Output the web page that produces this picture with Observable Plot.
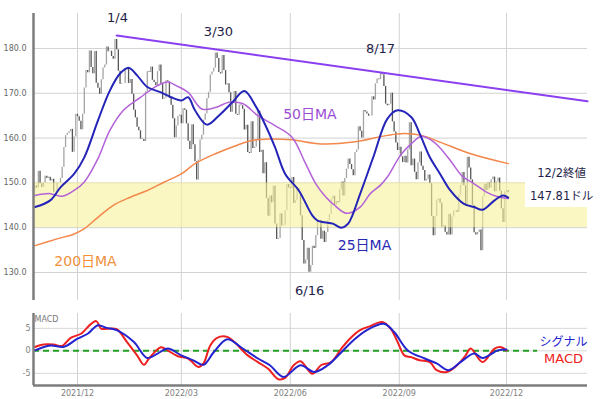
<!DOCTYPE html>
<html><head><meta charset="utf-8">
<script src="https://cdn.jsdelivr.net/npm/d3@7"></script>
<script src="https://cdn.jsdelivr.net/npm/@observablehq/plot@0.6"></script>
<style>
body{margin:0;background:#fff;}
#chart{position:relative;width:600px;height:399px;overflow:hidden}
#chart svg{position:absolute;left:0;}
</style></head><body><div id="chart"></div>
<script>
// Daily closes, trading-day index 0 = 2021/10/26 ... 278 = 2022/12/02
const prevClose0 = 148.64;
const closes = [
 149.32,148.85,152.57,149.80, // Oct
 148.96,150.02,151.49,150.96,151.28,150.44,150.81,147.92,147.87,149.99,150.00,151.00,153.49,157.87,160.55,161.02,161.41,161.94,156.81,160.24,165.30, // Nov
 164.77,163.76,161.84,165.32,171.18,175.08,174.56,179.45,175.74,174.33,179.30,172.26,171.14,169.75,172.99,175.64,176.28,180.33,179.29,179.38,178.20,177.57, // Dec
 182.01,179.70,174.92,172.00,172.17,172.19,175.08,175.53,172.19,173.07,169.80,166.23,164.51,162.41,161.62,159.78,159.69,159.22,170.33,174.78, // Jan
 174.61,175.84,172.90,172.39,171.66,174.83,176.28,172.12,168.64,168.88,172.79,172.55,168.88,167.30,164.32,160.07,162.74,164.85,165.12, // Feb
 163.20,166.56,166.23,163.17,159.30,157.44,162.95,158.52,154.73,150.62,155.09,159.59,160.62,163.98,165.38,168.82,170.21,174.07,174.72,175.60,178.96,177.77,174.61, // Mar
 174.31,178.44,175.06,171.83,172.14,170.09,165.75,167.66,170.40,165.29,165.07,167.40,167.23,166.42,161.79,162.88,156.80,156.57,163.64,157.65, // Apr
 157.96,159.48,166.02,156.77,157.28,152.06,154.51,146.50,142.56,147.11,145.54,149.24,140.82,137.35,137.59,143.11,140.36,140.52,143.78,149.64,148.84, // May
 148.71,151.21,145.38,146.14,148.71,147.96,142.64,137.13,131.88,132.76,135.43,130.06,131.56,135.87,135.35,138.27,141.66,141.66,137.44,139.23,136.72, // Jun
 138.93,141.56,142.92,146.35,147.04,144.87,145.86,145.49,148.47,150.17,147.07,151.00,153.04,155.35,154.09,152.95,151.60,156.79,157.35,162.51, // Jul
 161.51,160.01,166.13,165.81,165.35,164.87,164.92,169.24,168.49,172.10,173.19,173.03,174.55,174.15,171.52,167.57,167.23,167.53,170.03,163.62,161.38,158.91,157.22, // Aug
 157.96,155.81,154.53,155.96,154.46,157.37,163.43,153.84,155.31,152.37,150.70,154.48,156.90,153.72,152.74,150.43,150.77,151.76,149.84,142.48,138.20, // Sep
 142.45,146.10,146.40,145.43,140.09,140.42,138.98,138.34,142.99,138.38,142.41,143.75,143.86,143.39,147.27,149.45,152.34,149.35,144.80,155.74,153.34, // Oct
 150.65,145.03,138.88,138.38,138.92,139.50,134.87,146.87,149.70,148.28,150.04,148.79,150.72,151.29,148.01,150.18,151.07,148.11,144.22,141.17,148.03, // Nov
 148.31,147.81 // Dec
];

// Month tick positions (trading-day index) and labels
const tickIdx = [25, 86, 150, 214, 277];
const tickLabels = ["2021/12", "2022/03", "2022/06", "2022/09", "2022/12"];
const priceTicks = [130, 140, 150, 160, 170, 180];
const macdTicks = [-5, 0, 5];

// Moving averages: [index, value]
const ma25 = [[0,144.6],[9,146.1],[15,149.0],[23,152.0],[29,155.7],[37,163.9],[44,170.6],[50,174.4],[55,175.7],[60,174.0],[66,171.4],[74,170.2],[80,169.1],[86,168.4],[90,169.1],[94,166.2],[101,163.0],[108,165.0],[116,168.0],[123,170.5],[130,166.9],[135,163.2],[141,158.0],[147,152.0],[155,148.3],[163,142.7],[166,141.6],[170,141.2],[175,140.9],[180,140.0],[184,140.9],[191,147.5],[199,156.0],[207,164.3],[213,166.2],[221,164.7],[226,161.0],[232,155.7],[238,152.0],[244,148.3],[252,145.3],[258,144.6],[263,144.0],[270,146.1],[275,147.2],[278,146.7]];
const ma50 = [[0,147.2],[9,147.6],[16,147.0],[23,148.3],[29,150.2],[37,155.4],[44,161.7],[52,166.2],[62,169.1],[72,171.7],[78,172.5],[83,171.7],[90,170.2],[98,166.5],[106,166.8],[114,168.0],[122,167.7],[131,165.0],[141,162.8],[151,160.2],[159,154.3],[165,149.8],[171,146.8],[176,145.0],[183,143.2],[191,144.6],[197,147.6],[203,149.5],[207,151.3],[215,156.3],[221,158.7],[227,160.4],[233,159.5],[238,157.8],[245,154.5],[251,151.5],[258,149.8],[265,148.0],[271,147.0],[278,146.5]];
const ma200 = [[0,136.0],[13,137.5],[23,138.6],[29,139.8],[37,142.3],[46,145.0],[56,146.8],[66,148.3],[76,150.2],[86,152.0],[94,154.3],[106,156.5],[118,158.3],[128,159.5],[138,159.8],[151,159.6],[168,158.7],[187,159.1],[207,160.6],[217,161.0],[227,160.6],[238,159.1],[256,156.5],[278,154.3]];

// Trend line through the 1/4 high
const trendIdx = [48, 324.6];
const trendVal = [182.9, 168.2];

// MACD and signal: [index, value]
const macd = [[0,0.85],[5,1.4],[11,1.4],[16,1.1],[21,2.9],[27,3.8],[33,6.0],[36,6.6],[39,4.9],[42,4.9],[48,4.8],[54,2.0],[60,-1.0],[64,-3.1],[67,-1.7],[74,0.8],[78,0.1],[84,-1.2],[90,-1.7],[96,-3.6],[99,-2.8],[103,1.2],[107,2.9],[113,3.1],[117,2.0],[125,-1.0],[131,-2.5],[137,-4.0],[143,-6.3],[147,-6.0],[152,-3.2],[156,-2.3],[163,-5.1],[168,-3.2],[174,-2.5],[180,0.5],[185,2.7],[191,4.6],[197,5.5],[204,6.4],[209,4.9],[213,2.0],[217,-1.0],[221,-1.4],[226,-2.1],[232,-2.5],[236,-4.3],[242,-4.7],[248,-3.2],[253,-1.0],[256,0.5],[263,-2.5],[270,0.5],[274,0.8],[277,0.1]];
const signal = [[0,0.1],[9,1.2],[17,0.9],[25,2.7],[31,3.8],[37,5.7],[42,5.1],[48,4.6],[58,2.0],[66,-1.6],[72,-0.6],[78,0.5],[86,-1.0],[93,-2.1],[99,-3.1],[105,-0.3],[113,2.6],[121,0.8],[131,-1.7],[138,-3.2],[146,-5.8],[156,-3.2],[164,-4.7],[172,-3.2],[180,-0.3],[187,2.3],[195,4.6],[205,6.0],[211,4.2],[219,0.1],[229,-1.7],[236,-2.8],[243,-4.3],[250,-2.5],[258,-0.6],[263,-1.6],[272,0.1],[277,0.3]];

// Annotations
const dateLabels = ["1/4", "3/30", "8/17", "6/16"];
const dateLabelIdx = [48.5, 107.8, 203.0, 161.4];
const dateLabelVal = [186.8, 183.7, 179.85, 125.9];
const maLabels = ["50日MA", "25日MA", "200日MA"];
const maLabelIdx = [161.5, 193.6, 29.7];
const maLabelVal = [165.3, 136.0, 132.5];
const closeLabels = ["12/2終値", "147.81ドル"];
const closeLabelIdx = [309.4, 309.4];
const closeLabelVal = [152.1, 147.0];
const macdLabels = ["シグナル", "MACD"];

const xDomain = [-0.85, 324.6];
const FONT = "DejaVu Sans, 'Noto Sans CJK JP', sans-serif";

const candles = closes.map((c, i) => ({i, o: i === 0 ? prevClose0 : closes[i - 1], c}));
const pts = (arr) => arr.map(([i, v]) => ({i, v}));

const main = Plot.plot({
  width: 600, height: 305,
  marginLeft: 33, marginRight: 13, marginTop: 13, marginBottom: 5,
  style: {fontFamily: FONT, fontSize: "8px", color: "#666", background: "transparent"},
  color: {type: "identity"},
  x: {type: "linear", domain: xDomain, axis: null},
  y: {domain: [123.75, 187.8], ticks: priceTicks, tickFormat: d3.format(".1f"), tickSize: 0, tickPadding: 7, label: null},
  marks: [
    Plot.ruleY(priceTicks, {stroke: "#d2d2d2"}),
    Plot.ruleX(tickIdx, {stroke: "#d2d2d2"}),
    Plot.ruleX(candles, {x: "i", y1: "o", y2: "c", stroke: d => d.c >= d.o ? "#a4a4a4" : "#555555", strokeWidth: 1.3}),
    Plot.rect([0], {x1: xDomain[0], x2: xDomain[1], y1: 140, y2: 150, fill: "#f8f29b", fillOpacity: 0.6}),
    Plot.rect([0], {x1: 288.2, x2: xDomain[1], y1: 144.5, y2: 150.2, fill: "white"}),
    Plot.line(pts(ma200), {x: "i", y: "v", stroke: "#f4874a", strokeWidth: 1.5, curve: "catmull-rom"}),
    Plot.line(pts(ma50), {x: "i", y: "v", stroke: "#b362d8", strokeWidth: 1.5, curve: "catmull-rom"}),
    Plot.line(pts(ma25), {x: "i", y: "v", stroke: "#2424b8", strokeWidth: 2, curve: "catmull-rom"}),
    Plot.line(trendIdx.map((i, k) => ({i, v: trendVal[k]})), {x: "i", y: "v", stroke: "#8a3ff0", strokeWidth: 2}),
    Plot.ruleX([xDomain[0]], {stroke: "#7d7d7d", strokeWidth: 2.5}),
    Plot.text(dateLabels, {x: (d, k) => dateLabelIdx[k], y: (d, k) => dateLabelVal[k], text: d => d, fontSize: 13, fill: "#1e1e4a"}),
    Plot.text(maLabels, {x: (d, k) => maLabelIdx[k], y: (d, k) => maLabelVal[k], text: d => d, fontSize: 14, fill: (d, k) => ["#9a4cd4", "#2828b4", "#f0903a"][k]}),
    Plot.text(closeLabels, {x: (d, k) => closeLabelIdx[k], y: (d, k) => closeLabelVal[k], text: d => d, fontSize: 11.5, fill: "#1e1e4a"})
  ]
});
main.style.top = "0px";

const sub = Plot.plot({
  width: 600, height: 94,
  marginLeft: 33, marginRight: 13, marginTop: 8, marginBottom: 14,
  style: {fontFamily: FONT, fontSize: "8px", color: "#808080", background: "transparent"},
  x: {type: "linear", domain: xDomain, ticks: tickIdx, tickFormat: d => tickLabels[tickIdx.indexOf(d)], tickSize: 0, tickPadding: 5, label: null},
  y: {domain: [-7.7, 8.3], ticks: macdTicks, tickFormat: d => String(d), tickSize: 0, tickPadding: 3, label: null},
  marks: [
    Plot.ruleY(macdTicks, {stroke: "#d8d8d8"}),
    Plot.ruleX(tickIdx, {stroke: "#d2d2d2"}),
    Plot.ruleY([0], {x1: xDomain[0], x2: 295.3, stroke: "#22a022", strokeWidth: 2, strokeDasharray: "6,4"}),
    Plot.line(pts(macd), {x: "i", y: "v", stroke: "#ee2020", strokeWidth: 2, curve: "catmull-rom"}),
    Plot.line(pts(signal), {x: "i", y: "v", stroke: "#2323d0", strokeWidth: 2, curve: "catmull-rom"}),
    Plot.ruleX([xDomain[0]], {stroke: "#7d7d7d", strokeWidth: 2.5}),
    Plot.ruleY([-7.7], {stroke: "#7d7d7d", strokeWidth: 2.5}),
    Plot.text(["MACD"], {x: xDomain[0], y: 8.3, text: d => d, dx: 1, dy: 6, textAnchor: "start", fontSize: 8, fill: "#777"}),
    Plot.text(macdLabels, {x: 310.5, y: (d, k) => [1.9, -1.8][k], text: d => d, fontSize: (d, k) => [12, 13][k], fill: (d, k) => ["#2323d0", "#ee2020"][k]})
  ]
});
sub.style.top = "305px";

const chart = document.getElementById("chart");
chart.appendChild(main);
chart.appendChild(sub);
</script>
</body></html>
